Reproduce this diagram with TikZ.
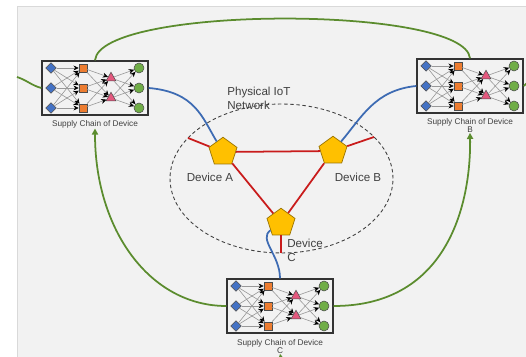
\documentclass[tikz,border=0pt]{standalone}
\usepackage{fontspec}
\setmainfont{Liberation Sans}
\usetikzlibrary{shapes.geometric,arrows.meta,positioning}

\definecolor{pagegray}{HTML}{F2F2F2}
\definecolor{srcblue}{HTML}{4472C4}
\definecolor{stageorange}{HTML}{ED7D31}
\definecolor{hubpink}{HTML}{E4587E}
\definecolor{sinkgreen}{HTML}{70AD47}
\definecolor{devgold}{HTML}{FFC000}
\definecolor{linkred}{HTML}{C91C1C}
\definecolor{wireblue}{HTML}{3D6BB3}
\definecolor{tradegreen}{HTML}{5B8C2E}

\begin{document}
\begin{tikzpicture}[x=0.02cm, y=0.02cm,
    chainbox/.style={draw=black!80, line width=0.8pt, minimum width=2.12cm, minimum height=1.08cm, inner sep=0pt},
    chainlabel/.style={font=\fontsize{4.7}{4.6}\selectfont, text=black!75, align=center, inner sep=0pt},
    src/.style={diamond, draw=black!70, fill=srcblue, line width=0.3pt, minimum size=0.21cm, inner sep=0pt},
    stage/.style={rectangle, draw=black!70, fill=stageorange, line width=0.3pt, minimum size=0.16cm, inner sep=0pt},
    hub/.style={regular polygon, regular polygon sides=3, draw=black!70, fill=hubpink, line width=0.3pt, minimum size=0.23cm, inner sep=0pt},
    sink/.style={circle, draw=black!70, fill=sinkgreen, line width=0.3pt, minimum size=0.2cm, inner sep=0pt},
    flow/.style={draw=black!40, line width=0.35pt, -{Stealth[length=3pt,width=2.8pt,black]}},
    device/.style={regular polygon, regular polygon sides=5, minimum size=0.59cm, inner sep=0pt, fill=devgold, draw=devgold!60!black, line width=0.4pt},
    devlabel/.style={font=\fontsize{6.6}{7.9}\selectfont, text=black!75, align=left, inner sep=0pt},
    link/.style={draw=linkred, line width=1pt},
    wire/.style={draw=wireblue, line width=1pt},
    trade/.style={draw=tradegreen, line width=1pt},
    tradein/.style={trade, -{Triangle[length=3.5pt,width=3.5pt]}}
]

% page
\useasboundingbox (0,0) rectangle (526,357);
\fill[white] (0,0) rectangle (526,357);
\draw[draw=black!15, fill=pagegray] (17,-5) rectangle (530,351);

% supply chains (box + little flow network)
\foreach \b/\x/\y in {A/95/269, B/470/271, C/280/51} {
  \node[chainbox] (S\b) at (\x,\y) {};
  \foreach \i/\dy in {1/20, 2/0, 3/-20} {
    \node[src] (S\b-s\i) at (\x-44,\y+\dy) {};
    \node[stage] (S\b-m\i) at (\x-12,\y+\dy) {};
    \node[sink] (S\b-k\i) at (\x+44,\y+\dy) {};
  }
  \node[hub] (S\b-h1) at (\x+16,\y+10) {};
  \node[hub] (S\b-h2) at (\x+16,\y-10) {};
  \foreach \i in {1,2,3} \foreach \j in {1,2,3} \draw[flow] (S\b-s\i) -- (S\b-m\j);
  \foreach \i in {1,2,3} \foreach \j in {1,2} \draw[flow] (S\b-m\i) -- (S\b-h\j);
  \foreach \i in {1,2} \foreach \j in {1,2,3} \draw[flow] (S\b-h\i) -- (S\b-k\j);
}
\node[chainlabel, below=2.5pt of SA] (LA) {Supply Chain of Device};
\node[chainlabel, below=2.5pt of SB] (LB) {Supply Chain of Device\\B};
\node[chainlabel, below=3pt of SC] (LC) {Supply Chain of Device\\C};

% physical network
\node[draw=black!75, dashed, dash pattern=on 2pt off 1.5pt, line width=0.5pt, ellipse, minimum width=4.46cm, minimum height=2.98cm, inner sep=0pt] (net) at (281.5,178.5) {};
\node[devlabel, anchor=west] (netlabel) at (227,258.5) {Physical IoT\\Network};

\node[device] (devA) at (223,205) {};
\node[device] (devB) at (333,206) {};
\node[device] (devC) at (281,134) {};
\node[devlabel] (labA) at (210,180) {Device A};
\node[devlabel] (labB) at (358,180) {Device B};
\node[devlabel, anchor=west] (labC) at (287,107) {Device\\C};

\coordinate (stubA) at (188,219);
\coordinate (stubB) at (374,220);
\coordinate (stubC) at (281,104);
\draw[link] (devA) -- (devB);
\draw[link] (devA) -- (devC);
\draw[link] (devB) -- (devC);
\draw[link] (devA) -- (stubA);
\draw[link] (devB) -- (stubB);
\draw[link] (devC) -- (stubC);

% chain to device
\draw[wire] (SA.east) .. controls (195,265) and (202,240) .. (devA);
\draw[wire] (SB.west) .. controls (375,267) and (362,240) .. (devB);
\draw[wire] (SC.north) .. controls (280,102) and (258,118) .. (devC);

% chain to chain
\coordinate (inA) at (17,280);
\coordinate (outB) at (534,284);
\coordinate (inC) at (283,-12);
\draw[trade] (SA.north) .. controls (100,352) and (465,352) .. (SB.north);
\draw[trade] (inA) to[out=-18,in=165] (SA.west);
\draw[trade] (SB.east) to[out=25,in=200] (outB);
\draw[tradein] (SC.west) .. controls (150,51) and (95,127) .. (LA.south);
\draw[tradein] (SC.east) .. controls (450,51) and (471,157) .. (LB.south);
\draw[tradein] (inC) -- (LC.south);

\end{tikzpicture}
\end{document}
